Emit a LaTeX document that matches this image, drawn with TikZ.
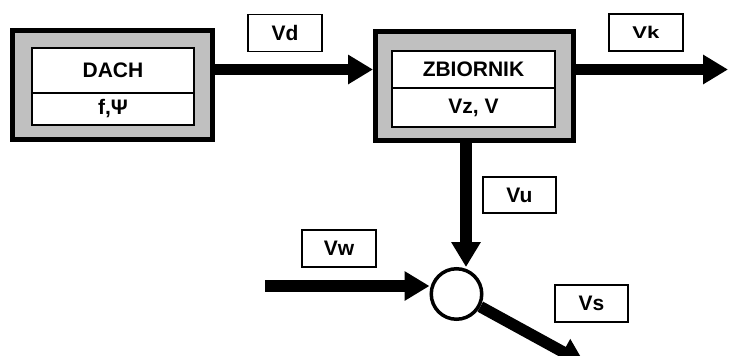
\documentclass[tikz,border=0pt]{standalone}
\usepackage{fontspec}
\setmainfont{Liberation Sans}
\usetikzlibrary{arrows.meta}
\definecolor{boxgray}{RGB}{192,192,192}
\begin{document}
\begin{tikzpicture}[x=1pt,y=-1pt,
  outerbox/.style={draw=black, line width=5pt, fill=boxgray, minimum width=200pt, minimum height=109pt, inner sep=0pt},
  cell/.style={draw=black, line width=1.5pt, fill=white, minimum width=162pt, inner sep=0pt, outer sep=0pt, font=\fontsize{21}{24}\selectfont\bfseries},
  divider/.style={line width=2.5pt},
  lbl/.style={draw=black, line width=1.5pt, fill=white, minimum width=74pt, minimum height=37pt, inner sep=0pt, font=\fontsize{21}{24}\selectfont\bfseries},
  flow/.style={line width=11.5pt, -{Triangle[length=25pt,width=28pt]}},
  junction/.style={circle, draw=black, line width=3.5pt, minimum size=50.5pt, inner sep=0pt, fill=white}
]
\useasboundingbox (0,0) rectangle (729,356);
\clip (0,0) rectangle (729,356);

% DACH block
\node[outerbox] (dach) at (112.5,85) {};
\node[cell, minimum height=45pt] (dtop) at (113,70.5) {DACH};
\node[cell, minimum height=32pt] (dbot) at (113,109) {f,Ψ};
\draw[divider] (dtop.south west) -- (dtop.south east);

% ZBIORNIK block
\node[outerbox, minimum width=198pt] (zb) at (474.5,86) {};
\node[cell, minimum width=163pt, minimum height=37pt] (ztop) at (473.5,69.5) {ZBIORNIK};
\node[cell, minimum width=163pt, minimum height=39pt] (zbot) at (473.5,107.5) {Vz, V};
\draw[divider] (ztop.south west) -- (ztop.south east);

% labels
\node[lbl] (vd) at (285,33) {Vd};
\node[lbl, font=\fontsize{17}{20}\selectfont\bfseries] (vk) at (646,32.5) {\scalebox{1.3}[1]{Vk}};
\node[lbl, minimum width=73pt, minimum height=36pt] (vu) at (519.5,195) {Vu};
\node[lbl] (vw) at (339,248.5) {Vw};
\node[lbl, minimum width=73pt] (vs) at (591.5,303.5) {Vs};

% junction
\node[junction] (circ) at (456.5,294) {};

% helper coordinates
\coordinate (ay) at (0,69.5);
\coordinate (vkend) at (728,69.5);
\coordinate (vux) at (466,0);
\coordinate (vw0) at (265,286);
\coordinate (vsend) at (585,364);

% flows
\draw[flow] (dach.east |- ay) -- (zb.west |- ay);
\draw[flow] (zb.east |- ay) -- (vkend);
\draw[flow] (zb.south -| vux) -- (circ.north -| vux);
\draw[flow] (vw0) -- (circ.west |- vw0);
\draw[flow] (circ.-28) -- (vsend);
\end{tikzpicture}
\end{document}
